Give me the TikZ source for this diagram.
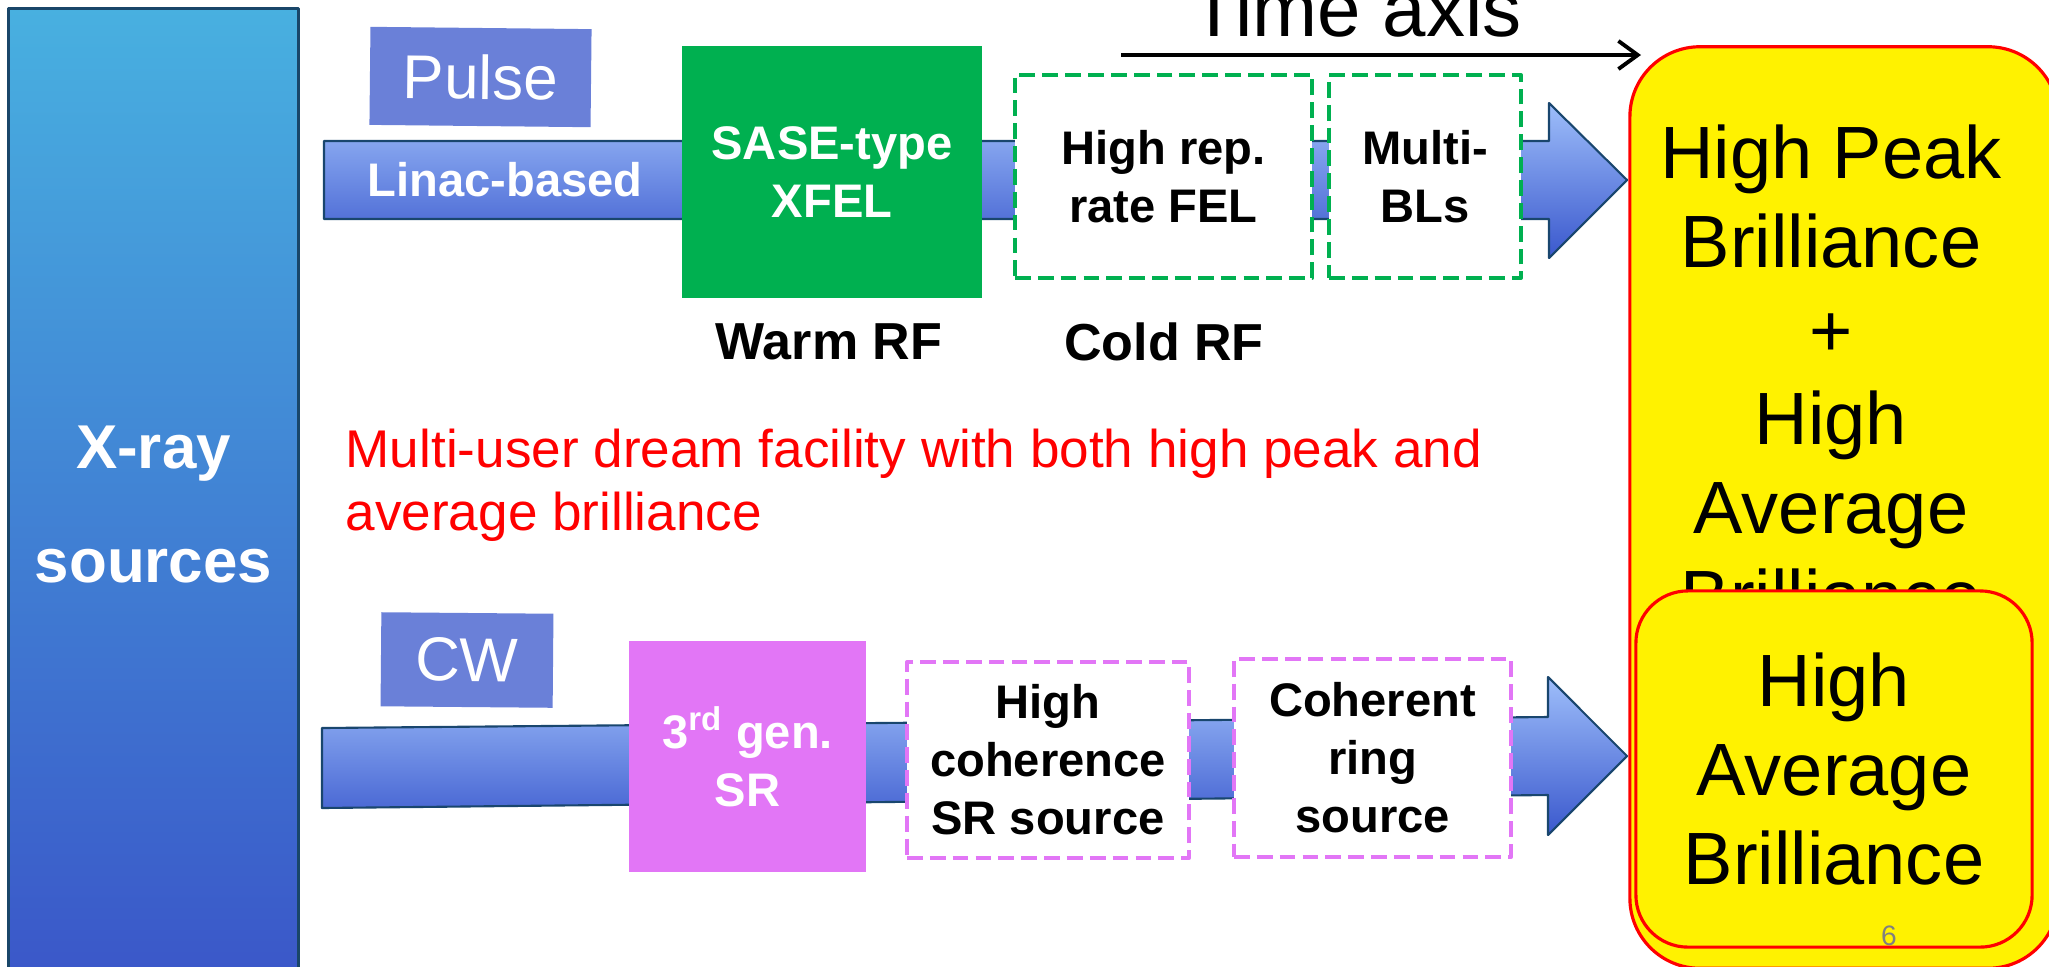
\documentclass[tikz,border=0pt]{standalone}
\usepackage{fontspec}
\setmainfont{Liberation Sans}
\usetikzlibrary{arrows.meta}
\definecolor{srctop}{RGB}{72,176,224}
\definecolor{srcbot}{RGB}{58,85,200}
\definecolor{srcedge}{RGB}{25,70,105}
\definecolor{beamtop}{RGB}{158,190,250}
\definecolor{beambot}{RGB}{58,88,205}
\definecolor{beamedge}{RGB}{25,70,110}
\definecolor{tagblue}{RGB}{106,128,216}
\definecolor{felgreen}{RGB}{0,176,80}
\definecolor{genpink}{RGB}{226,118,246}
\definecolor{pagegray}{RGB}{128,128,128}
\begin{document}
\begin{tikzpicture}[x=0.01cm, y=-0.01cm, line join=round, >={Straight Barb[length=5.5pt,width=8pt]},
	every node/.style={inner sep=0pt},
	tag/.style={fill=tagblue, text=white, font=\fontsize{17.6}{21}\selectfont},
	solidbox/.style={text=white, font=\fontsize{13.4}{16.5}\selectfont\bfseries, align=center},
	dashbox/.style={draw=#1, fill=white, line width=1.1pt, dash pattern=on 4.5pt off 2pt, font=\fontsize{13.4}{16.5}\selectfont\bfseries, align=center},
	beam/.style={draw=beamedge, line width=0.6pt, top color=beamtop, bottom color=beambot},
	result/.style={draw=red, line width=0.9pt, fill=yellow, font=\fontsize{21.06}{25.2}\selectfont, align=center}]
	\useasboundingbox (0,0) rectangle (2049,966);
	\clip (0,0) rectangle (2049,966);
	\draw[beam] (324,141)--(1549,141)--(1549,103)--(1627,180)--(1549,258)--(1549,219)--(324,219)--cycle;
	\draw[beam] (322,728)--(1548,717)--(1548,677)--(1627,756)--(1548,835)--(1548,795)--(322,808)--cycle;
	\node[draw=srcedge, line width=0.9pt, top color=srctop, bottom color=srcbot, minimum width=2.89cm, minimum height=9.91cm, text=white, font=\fontsize{17.6}{32.2}\selectfont\bfseries, align=center] (src) at (153.5,504.5) {X-ray\\sources};
	\node[tag, minimum width=2.21cm, minimum height=0.98cm, rotate=-0.6] (pulse) at (480.5,77) {Pulse};
	\node[solidbox] (linac) at (505,180) {Linac-based};
	\node[solidbox, fill=felgreen, minimum width=3cm, minimum height=2.52cm] (sase) at (832,172) {SASE-type\\XFEL};
	\node[dashbox=felgreen, minimum width=2.97cm, minimum height=2.03cm] (hirep) at (1163.5,176.5) {High rep.\\rate FEL};
	\node[dashbox=felgreen, minimum width=1.92cm, minimum height=2.03cm] (multi) at (1425,176.5) {Multi-\\BLs};
	\node[font=\fontsize{14.8}{17}\selectfont\bfseries] (warm) at (829,341.5) {Warm RF};
	\node[font=\fontsize{14.8}{17}\selectfont\bfseries] (cold) at (1164,341.5) {Cold RF};
	\coordinate (t0) at (1121,55);
	\coordinate (t1) at (1641,55);
	\draw[->, line width=1.1pt] (t0)--(t1);
	\node[anchor=base, font=\fontsize{22.2}{26}\selectfont] (time) at (1356,36) {Time axis};
	\node[anchor=west, text=red, font=\fontsize{15.1}{17.9}\selectfont, align=left] (dream) at (345,485) {Multi-user dream facility with both high peak and\\average brilliance};
	\node[tag, minimum width=1.72cm, minimum height=0.94cm, rotate=-0.5] (cw) at (467,660) {CW};
	\node[solidbox, fill=genpink, minimum width=2.37cm, minimum height=2.31cm] (gen3) at (747.5,756.5) {3\textsuperscript{rd} gen.\\SR};
	\node[dashbox=genpink, minimum width=2.82cm, minimum height=1.96cm] (hicoh) at (1048,760) {High\\coherence\\SR source};
	\node[dashbox=genpink, minimum width=2.77cm, minimum height=1.98cm] (ring) at (1372.5,758) {Coherent\\ring\\source};
	\node[result, rounded corners=0.7cm, minimum width=4.28cm, minimum height=9.21cm] (peak) at (1844,507.5) {};
	\node[font=\fontsize{21.06}{25.2}\selectfont, align=center] (peaktxt) at (1831,374) {High Peak\\Brilliance\\+\\High\\Average\\Brilliance};
	\node[result, rounded corners=0.52cm, minimum width=3.96cm, minimum height=3.56cm] (avg) at (1834,769) {High\\Average\\Brilliance};
	\node[anchor=base, text=pagegray, font=\fontsize{8}{9}\selectfont] (page) at (1889,945) {6};
\end{tikzpicture}
\end{document}
